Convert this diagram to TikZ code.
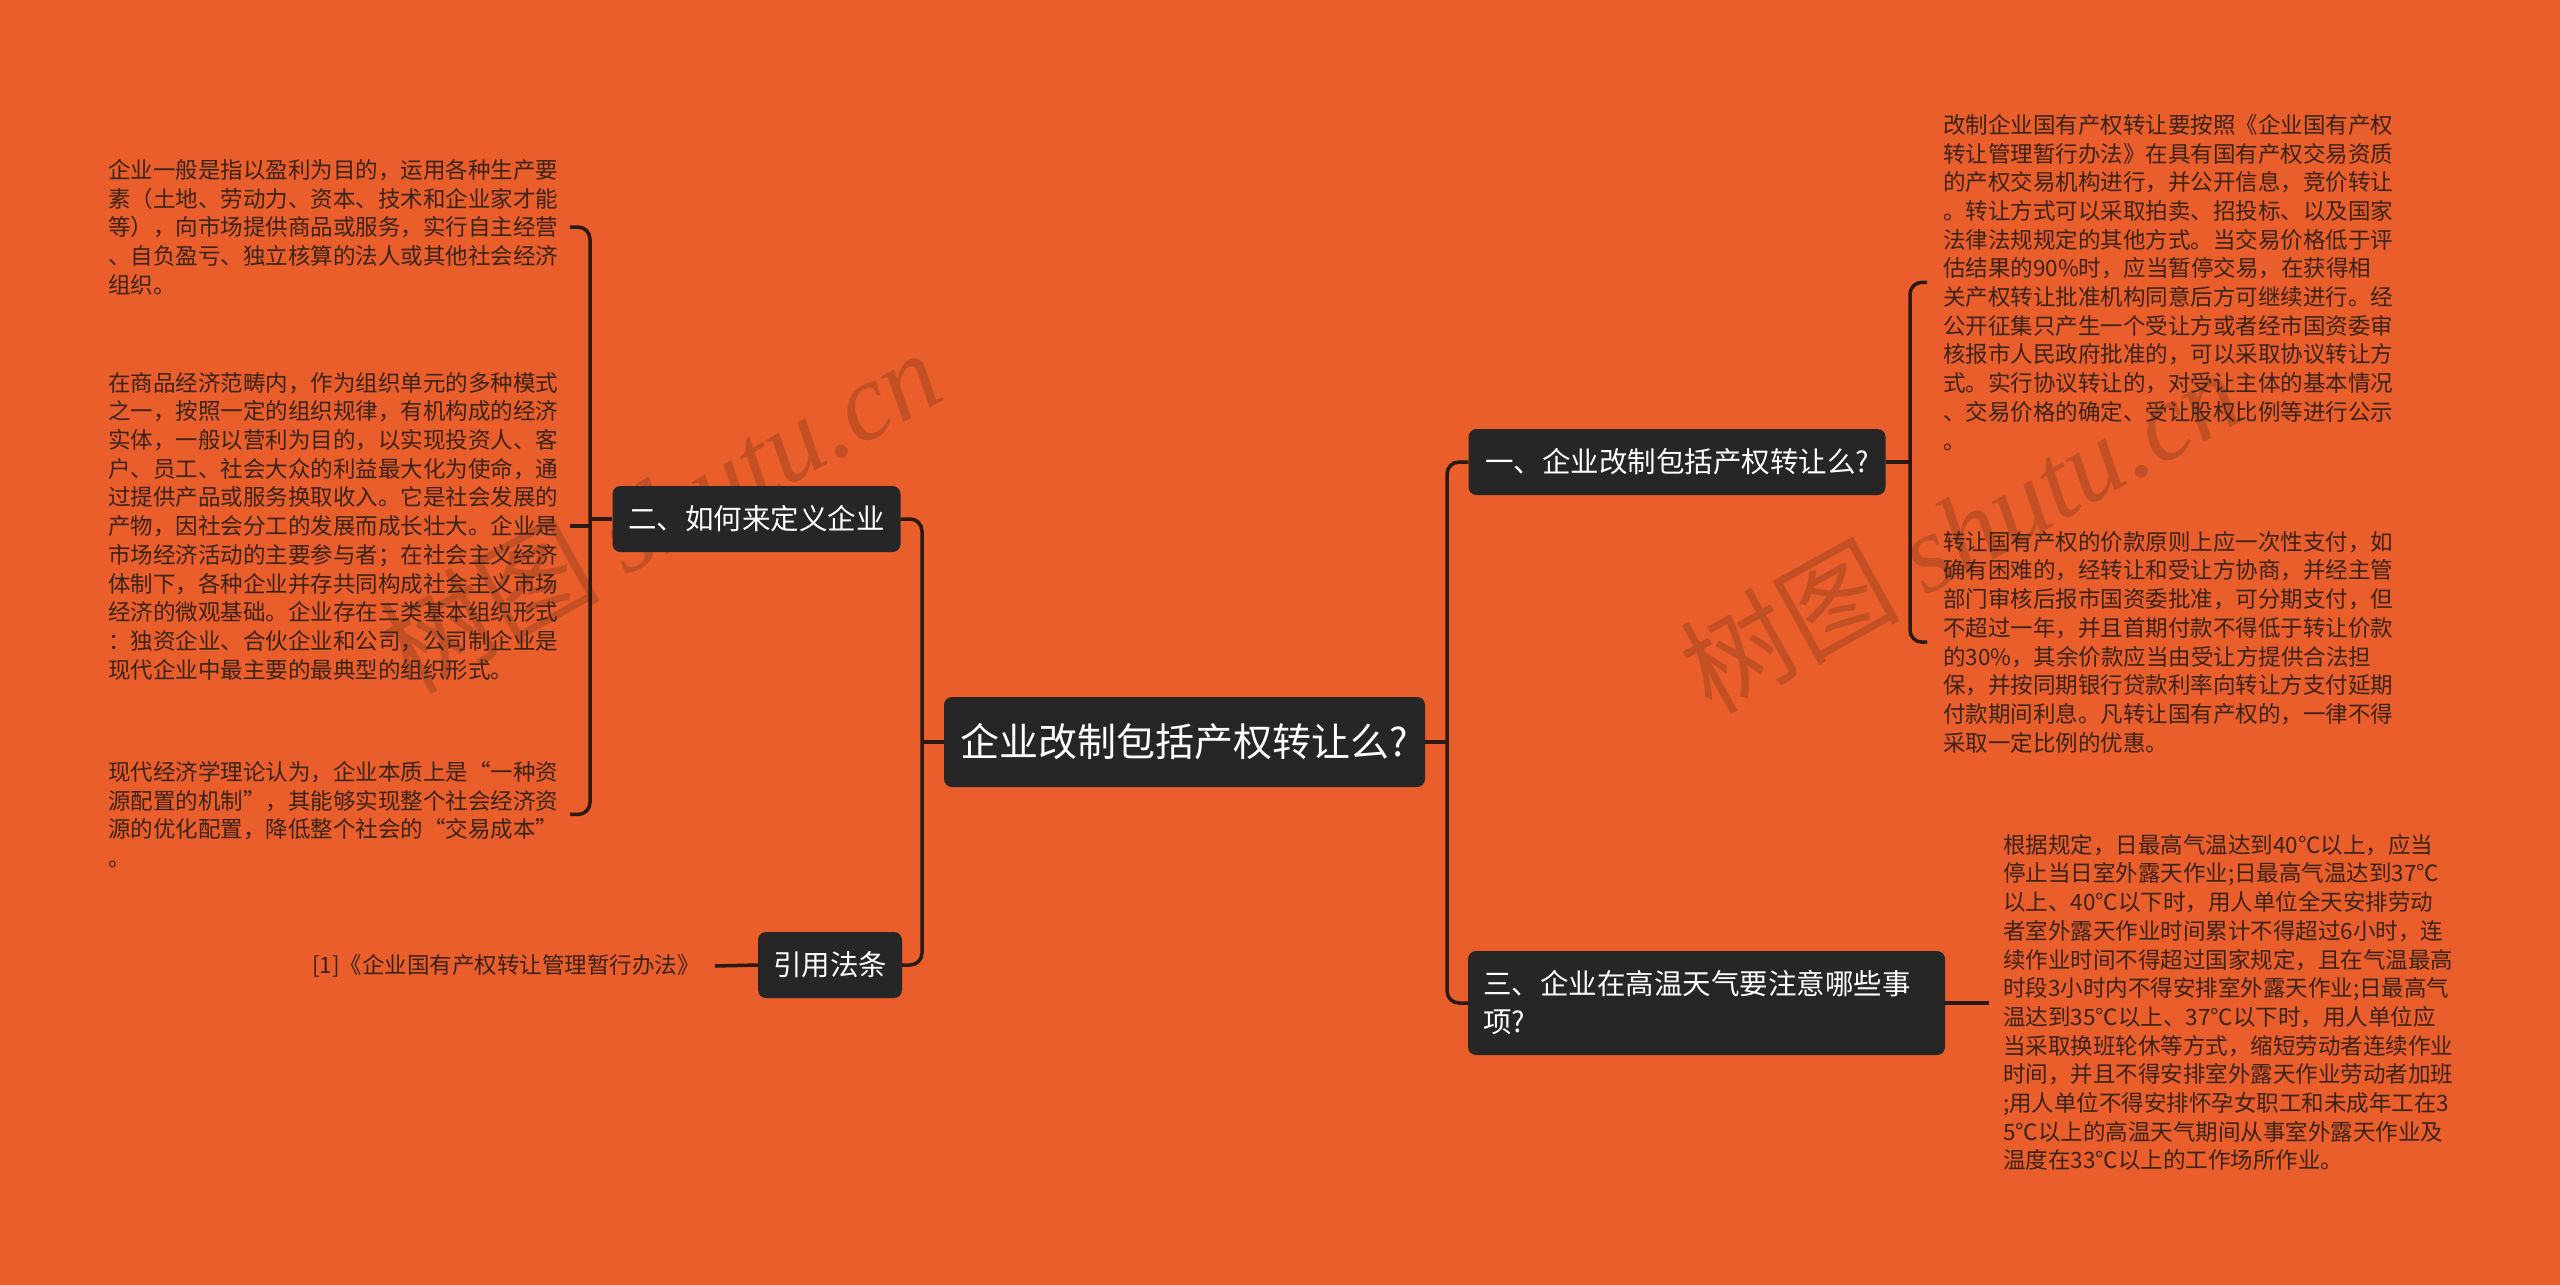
\documentclass[tikz,border=0pt]{standalone}
\usepackage{fontspec}
\setmainfont{Noto Sans CJK SC}
\newfontfamily\wmserif{Liberation Serif}
\usetikzlibrary{calc}
\definecolor{bg}{HTML}{E95E2A}
\definecolor{boxc}{HTML}{262626}
\definecolor{linec}{HTML}{2B1A12}
\definecolor{txt}{HTML}{3A2317}
\begin{document}
\begin{tikzpicture}[x=1pt,y=-1pt,
  box/.style={fill=boxc, rounded corners=8pt, text=white, inner sep=0pt, align=center},
  body/.style={anchor=north west, inner sep=0pt, align=left, text=txt, font=\fontsize{22.5}{28.7}\selectfont},
  conn/.style={draw=linec, line width=3.5pt},
  wm/.style={rotate=29, text=linec, opacity=0.2, inner sep=0pt, font=\fontsize{110}{110}\selectfont},
]
\fill[bg] (0,0) rectangle (2560,1285);
\useasboundingbox (0,0) rectangle (2560,1285);

% watermarks
\node[wm] (wm1) at (660,510) {树图 {\wmserif\itshape shutu.cn}};
\node[wm] (wm2) at (1960,530) {树图 {\wmserif\itshape shutu.cn}};

% main boxes
\node[box, minimum width=481pt, minimum height=90pt, font=\fontsize{39}{46}\selectfont] (root) at (1184.5,742) {企业改制包括产权转让么?};
\node[box, minimum width=417pt, minimum height=66pt, font=\fontsize{28.5}{36}\selectfont] (b1) at (1677,462) {一、企业改制包括产权转让么?};
\node[box, minimum width=288pt, minimum height=66pt, font=\fontsize{28.5}{36}\selectfont] (b2) at (756.5,519) {二、如何来定义企业};
\node[box, minimum width=477pt, minimum height=104pt, text width=447pt, align=left, font=\fontsize{28.5}{38}\selectfont] (b3) at (1706.5,1003) {三、企业在高温天气要注意哪些事\\项?};
\node[box, minimum width=144pt, minimum height=66pt, font=\fontsize{28.5}{36}\selectfont] (b4) at (830,965) {引用法条};

% left texts
\node[body] (t1) at (108,159) {企业一般是指以盈利为目的，运用各种生产要\\素（土地、劳动力、资本、技术和企业家才能\\等），向市场提供商品或服务，实行自主经营\\、自负盈亏、独立核算的法人或其他社会经济\\组织。};
\node[body] (t2) at (108,372) {在商品经济范畴内，作为组织单元的多种模式\\之一，按照一定的组织规律，有机构成的经济\\实体，一般以营利为目的，以实现投资人、客\\户、员工、社会大众的利益最大化为使命，通\\过提供产品或服务换取收入。它是社会发展的\\产物，因社会分工的发展而成长壮大。企业是\\市场经济活动的主要参与者；在社会主义经济\\体制下，各种企业并存共同构成社会主义市场\\经济的微观基础。企业存在三类基本组织形式\\：独资企业、合伙企业和公司，公司制企业是\\现代企业中最主要的最典型的组织形式。};
\node[body] (t3) at (108,761) {现代经济学理论认为，企业本质上是“一种资\\源配置的机制”，其能够实现整个社会经济资\\源的优化配置，降低整个社会的“交易成本”\\。};
\node[anchor=east, inner sep=0pt, text=txt, font=\fontsize{22.5}{28.7}\selectfont] (cite) at (700,966) {[1]《企业国有产权转让管理暂行办法》};

% right texts
\node[body] (r1) at (1943,114) {改制企业国有产权转让要按照《企业国有产权\\转让管理暂行办法》在具有国有产权交易资质\\的产权交易机构进行，并公开信息，竞价转让\\。转让方式可以采取拍卖、招投标、以及国家\\法律法规规定的其他方式。当交易价格低于评\\估结果的90\%时，应当暂停交易，在获得相\\关产权转让批准机构同意后方可继续进行。经\\公开征集只产生一个受让方或者经市国资委审\\核报市人民政府批准的，可以采取协议转让方\\式。实行协议转让的，对受让主体的基本情况\\、交易价格的确定、受让股权比例等进行公示\\。};
\node[body] (r2) at (1943,531) {转让国有产权的价款原则上应一次性支付，如\\确有困难的，经转让和受让方协商，并经主管\\部门审核后报市国资委批准，可分期支付，但\\不超过一年，并且首期付款不得低于转让价款\\的30\%，其余价款应当由受让方提供合法担\\保，并按同期银行贷款利率向转让方支付延期\\付款期间利息。凡转让国有产权的，一律不得\\采取一定比例的优惠。};
\node[body] (r3) at (2003,834) {根据规定，日最高气温达到40℃以上，应当\\停止当日室外露天作业;日最高气温达到37℃\\以上、40℃以下时，用人单位全天安排劳动\\者室外露天作业时间累计不得超过6小时，连\\续作业时间不得超过国家规定，且在气温最高\\时段3小时内不得安排室外露天作业;日最高气\\温达到35℃以上、37℃以下时，用人单位应\\当采取换班轮休等方式，缩短劳动者连续作业\\时间，并且不得安排室外露天作业劳动者加班\\;用人单位不得安排怀孕女职工和未成年工在3\\5℃以上的高温天气期间从事室外露天作业及\\温度在33℃以上的工作场所作业。};

% trunk connectors
\coordinate (jl) at (922,742);
\coordinate (jr) at (1447,742);
\draw[conn] (root.west) -- (jl);
\draw[conn, rounded corners=12pt] (jl) |- (b2.east);
\draw[conn, rounded corners=12pt] (jl) |- (b4.east);
\draw[conn] (root.east) -- (jr);
\draw[conn, rounded corners=12pt] (jr) |- (b1.west);
\draw[conn, rounded corners=12pt] (jr) |- (b3.west);

% left bracket
\coordinate (lb) at (590,519);
\draw[conn] (b2.west) -- (lb);
\draw[conn, rounded corners=12pt] (lb) |- ($(lb |- t1.east)+(-20,0)$);
\draw[conn, rounded corners=12pt] (lb) |- ($(lb |- t3.east)+(-20,0)$);
\draw[conn] (lb |- t2.east) -- ($(lb |- t2.east)+(-20,0)$);

% citation
\draw[conn] (b4.west) -- ($(cite.east)+(15,0)$);

% right bracket
\coordinate (rb) at (1910,462);
\draw[conn] (b1.east) -- (rb);
\draw[conn, rounded corners=12pt] (rb) |- ($(rb |- r1.west)+(17,0)$);
\draw[conn, rounded corners=12pt] (rb) |- ($(rb |- r2.west)+(17,0)$);

% third branch
\draw[conn] (b3.east) -- ($(b3.east)+(44,0)$);
\end{tikzpicture}
\end{document}
